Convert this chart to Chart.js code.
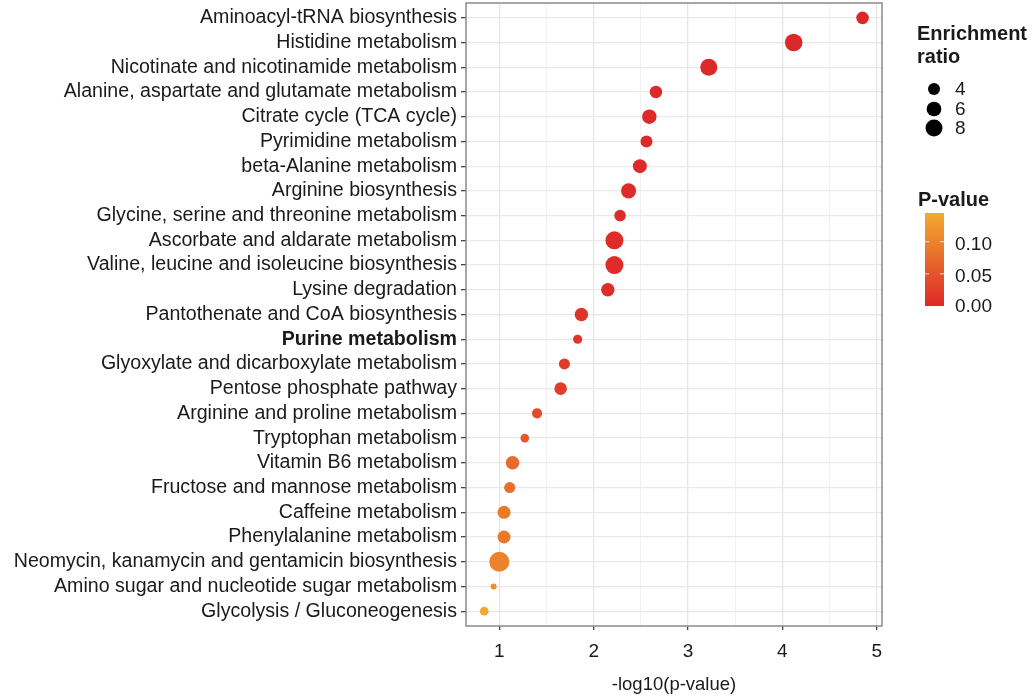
<!DOCTYPE html>
<html>
<head>
<meta charset="utf-8">
<script src="https://cdn.jsdelivr.net/npm/chart.js@4.4.1/dist/chart.umd.min.js"></script>
<style>
  html, body { margin: 0; padding: 0; background: #ffffff; }
  #wrap { width: 1032px; height: 698px; position: relative; }
</style>
</head>
<body>
<div id="wrap"><canvas id="chart"></canvas></div>
<script>
// KEGG pathway enrichment, top to bottom
const pathways = [
  'Aminoacyl-tRNA biosynthesis',
  'Histidine metabolism',
  'Nicotinate and nicotinamide metabolism',
  'Alanine, aspartate and glutamate metabolism',
  'Citrate cycle (TCA cycle)',
  'Pyrimidine metabolism',
  'beta-Alanine metabolism',
  'Arginine biosynthesis',
  'Glycine, serine and threonine metabolism',
  'Ascorbate and aldarate metabolism',
  'Valine, leucine and isoleucine biosynthesis',
  'Lysine degradation',
  'Pantothenate and CoA biosynthesis',
  'Purine metabolism',
  'Glyoxylate and dicarboxylate metabolism',
  'Pentose phosphate pathway',
  'Arginine and proline metabolism',
  'Tryptophan metabolism',
  'Vitamin B6 metabolism',
  'Fructose and mannose metabolism',
  'Caffeine metabolism',
  'Phenylalanine metabolism',
  'Neomycin, kanamycin and gentamicin biosynthesis',
  'Amino sugar and nucleotide sugar metabolism',
  'Glycolysis / Gluconeogenesis'
];
const highlighted = 'Purine metabolism';

// -log10(p-value) per pathway
const negLog10P = [
  4.85, 4.12, 3.22, 2.66, 2.59, 2.56, 2.49, 2.37, 2.28, 2.22,
  2.22, 2.15, 1.87, 1.83, 1.69, 1.65, 1.40, 1.27, 1.14, 1.11,
  1.05, 1.05, 1.00, 0.94, 0.84
];

// Enrichment ratio per pathway
const enrichmentRatio = [
  4.4, 8.6, 8.0, 4.3, 5.8, 4.0, 5.4, 6.3, 3.7, 9.0,
  9.0, 5.0, 5.0, 2.3, 3.4, 4.4, 2.8, 2.1, 5.1, 3.4,
  4.7, 4.7, 11.1, 1.0, 2.1
];

const xTickValues = [1, 2, 3, 4, 5];
const sizeLegendValues = [4, 6, 8];
const pValueLegendTicks = [0.00, 0.05, 0.10];

const FONT = "'Liberation Sans', Arial, Helvetica, sans-serif";
const TEXT = '#1a1a1a';
const LOW = [221, 40, 41];    // p-value at its minimum
const HIGH = [242, 171, 46];  // p-value at its maximum

const pValues = negLog10P.map(v => Math.pow(10, -v));
const pMin = Math.min(...pValues);
const pMax = Math.max(...pValues);

function radiusFor(ratio) { return 3 * Math.sqrt(ratio); }
function colorFor(p) {
  const t = Math.max(0, Math.min(1, (p - pMin) / (pMax - pMin)));
  const c = LOW.map((lo, k) => Math.round(lo + (HIGH[k] - lo) * t));
  return `rgb(${c[0]},${c[1]},${c[2]})`;
}

const points = pathways.map((_, i) => ({ x: negLog10P[i], y: i, r: radiusFor(enrichmentRatio[i]) }));
const pointColors = pValues.map(colorFor);

// half-unit positions carry the minor grid lines
const xGridValues = [];
for (let v = 1; v <= 5; v += 0.5) xGridValues.push(v);
const isMajor = v => xTickValues.includes(v);

const panelBorder = {
  id: 'panelBorder',
  afterDatasetsDraw(chart) {
    const { ctx, chartArea: a } = chart;
    ctx.save();
    ctx.strokeStyle = '#8a8a8a';
    ctx.lineWidth = 1.5;
    ctx.strokeRect(a.left, a.top, a.right - a.left, a.bottom - a.top);
    ctx.restore();
  }
};

const sideLegends = {
  id: 'sideLegends',
  afterDraw(chart) {
    const ctx = chart.ctx;
    ctx.save();
    ctx.fillStyle = TEXT;
    ctx.textBaseline = 'middle';
    ctx.textAlign = 'left';

    // size legend
    ctx.font = `bold 20px ${FONT}`;
    ctx.fillText('Enrichment', 917, 34);
    ctx.fillText('ratio', 917, 57);
    ctx.font = `19px ${FONT}`;
    const rowY = [89, 109, 128];
    sizeLegendValues.forEach((v, i) => {
      ctx.fillStyle = '#000';
      ctx.beginPath();
      ctx.arc(934, rowY[i], radiusFor(v), 0, Math.PI * 2);
      ctx.fill();
      ctx.fillStyle = TEXT;
      ctx.fillText(String(v), 955, rowY[i] + 1);
    });

    // colour bar
    ctx.font = `bold 20px ${FONT}`;
    ctx.fillText('P-value', 918, 200);
    const barX = 925, barW = 19, barTop = 213, barBottom = 306;
    const grad = ctx.createLinearGradient(0, barBottom, 0, barTop);
    for (let s = 0; s <= 10; s++) {
      grad.addColorStop(s / 10, colorFor(pMin + (pMax - pMin) * s / 10));
    }
    ctx.fillStyle = grad;
    ctx.fillRect(barX, barTop, barW, barBottom - barTop);
    const yOf = p => barBottom - (p - pMin) / (pMax - pMin) * (barBottom - barTop);
    ctx.font = `19px ${FONT}`;
    pValueLegendTicks.forEach(p => {
      const y = yOf(p);
      ctx.strokeStyle = 'rgba(255,255,255,0.8)';
      ctx.lineWidth = 1;
      if (p > pMin + 1e-3) {
        ctx.beginPath();
        ctx.moveTo(barX, y); ctx.lineTo(barX + 4, y);
        ctx.moveTo(barX + barW - 4, y); ctx.lineTo(barX + barW, y);
        ctx.stroke();
      }
      ctx.fillStyle = TEXT;
      ctx.fillText(p.toFixed(2), 955, Math.min(y, 304) + 3);
    });
    ctx.restore();
  }
};

new Chart(document.getElementById('chart'), {
  type: 'bubble',
  data: {
    datasets: [{
      data: points,
      backgroundColor: pointColors,
      borderWidth: 0,
      hoverBorderWidth: 0
    }]
  },
  options: {
    responsive: true,
    maintainAspectRatio: false,
    animation: false,
    events: [],
    layout: { autoPadding: false, padding: { left: 0, right: 150, top: 3, bottom: 0 } },
    plugins: { legend: { display: false }, tooltip: { enabled: false } },
    scales: {
      x: {
        type: 'linear',
        min: 0.647,
        max: 5.056,
        afterBuildTicks: ax => { ax.ticks = xGridValues.map(v => ({ value: v })); },
        afterFit: s => { s.height = 72; s.paddingLeft = 0; s.paddingRight = 0; },
        ticks: {
          autoSkip: false,
          maxRotation: 0,
          padding: 10,
          color: TEXT,
          font: { family: FONT, size: 19 },
          callback: v => (isMajor(v) ? String(v) : '')
        },
        grid: {
          color: ctx => (ctx.tick && isMajor(ctx.tick.value) ? '#e6e6e6' : '#f1f1f1'),
          lineWidth: ctx => (ctx.tick && isMajor(ctx.tick.value) ? 1.3 : 1),
          tickColor: ctx => (ctx.tick && isMajor(ctx.tick.value) ? '#444' : 'rgba(0,0,0,0)'),
          tickLength: 4,
          drawTicks: true
        },
        border: { display: false },
        title: {
          display: true,
          text: '-log10(p-value)',
          color: TEXT,
          font: { family: FONT, size: 18.5 },
          padding: { top: 0, bottom: 2 }
        }
      },
      y: {
        type: 'linear',
        reverse: true,
        min: -0.6,
        max: 24.6,
        afterBuildTicks: ax => { ax.ticks = pathways.map((_, i) => ({ value: i })); },
        afterFit: s => { s.width = 466; s.paddingTop = 0; s.paddingBottom = 0; },
        ticks: {
          autoSkip: false,
          padding: 4,
          color: TEXT,
          font: ctx => ({
            family: FONT,
            size: 19.6,
            weight: pathways[ctx.index] === highlighted ? 'bold' : 'normal'
          }),
          callback: v => pathways[v]
        },
        grid: {
          color: '#e9e9e9',
          lineWidth: 1.3,
          tickColor: '#444',
          tickLength: 5,
          drawTicks: true
        },
        border: { display: false }
      }
    }
  },
  plugins: [panelBorder, sideLegends]
});
</script>
</body>
</html>
